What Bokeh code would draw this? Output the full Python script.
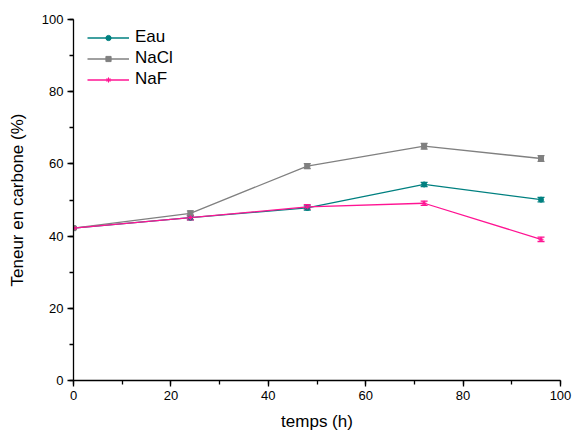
from bokeh.plotting import figure
from bokeh.models import (ColumnDataSource, Whisker, TeeHead, Range1d, SingleIntervalTicker,
                          Legend, LegendItem)
from bokeh.embed import file_html
from bokeh.resources import INLINE

temps = [0, 24, 48, 72, 96]
eau = [42.2, 45.1, 47.8, 54.3, 50.1]
eau_err = [0.3, 0.6, 0.6, 0.6, 0.6]
nacl = [42.2, 46.3, 59.4, 64.9, 61.5]
nacl_err = [0.3, 0.7, 0.7, 0.8, 0.8]
naf = [42.2, 45.1, 48.1, 49.1, 39.1]
naf_err = [0.3, 0.6, 0.6, 0.6, 0.6]

FONT = "Liberation Sans"

p = figure(width=573, height=434, output_backend="svg", toolbar_location=None,
           x_range=Range1d(0, 100), y_range=Range1d(0, 100),
           min_border_left=73, min_border_top=19, min_border_right=13, min_border_bottom=54)
p.outline_line_color = None
p.xgrid.visible = False
p.ygrid.visible = False

for ax in (p.xaxis[0], p.yaxis[0]):
    ax.ticker = SingleIntervalTicker(interval=20, num_minor_ticks=2)
    ax.axis_line_color = "black"
    ax.axis_line_width = 1.3
    ax.major_tick_line_color = "black"
    ax.major_tick_line_width = 1.3
    ax.minor_tick_line_color = "black"
    ax.minor_tick_line_width = 1.3
    ax.major_tick_out = 6
    ax.major_tick_in = 0
    ax.minor_tick_out = 4
    ax.minor_tick_in = 0
    ax.major_label_text_font = FONT
    ax.major_label_text_font_size = "13px"
    ax.major_label_text_color = "black"
    ax.axis_label_text_font = FONT
    ax.axis_label_text_font_size = "17px"
    ax.axis_label_text_font_style = "normal"
    ax.axis_label_text_color = "black"

p.xaxis.axis_label = "temps (h)"
p.yaxis.axis_label = "Teneur en carbone (%)"
p.xaxis.major_label_standoff = 4
p.xaxis.axis_label_standoff = 9
p.yaxis.major_label_standoff = 4
p.yaxis.axis_label_standoff = 12

series = [
    ("Eau", eau, eau_err, "#008080", "circle"),
    ("NaCl", nacl, nacl_err, "#808080", "square"),
    ("NaF", naf, naf_err, "#ff1493", "asterisk"),
]

items = []
for name, vals, errs, color, marker in series:
    src = ColumnDataSource(dict(x=temps, y=vals,
                                lo=[v - e for v, e in zip(vals, errs)],
                                hi=[v + e for v, e in zip(vals, errs)]))
    ln = p.line("x", "y", source=src, line_color=color, line_width=1.3)
    w = Whisker(source=src, base="x", upper="hi", lower="lo", dimension="height",
                line_color=color, line_width=1.3,
                upper_head=TeeHead(size=7, line_color=color, line_width=1.3),
                lower_head=TeeHead(size=7, line_color=color, line_width=1.3))
    p.add_layout(w)
    sc = p.scatter("x", "y", source=src, marker=marker, size=5, line_color=color,
                   fill_color=color, line_width=1)
    items.append(LegendItem(label=name, renderers=[ln, sc]))

legend = Legend(items=items, location=(14, 291))
legend.border_line_color = None
legend.background_fill_alpha = 0
legend.label_text_font = FONT
legend.label_text_font_size = "17px"
legend.label_text_color = "black"
legend.glyph_width = 42
legend.glyph_height = 13
legend.label_height = 20
legend.spacing = 1
legend.margin = 0
legend.padding = 8
legend.label_standoff = 6
p.add_layout(legend)

open("out.html", "w").write(file_html(p, INLINE))
